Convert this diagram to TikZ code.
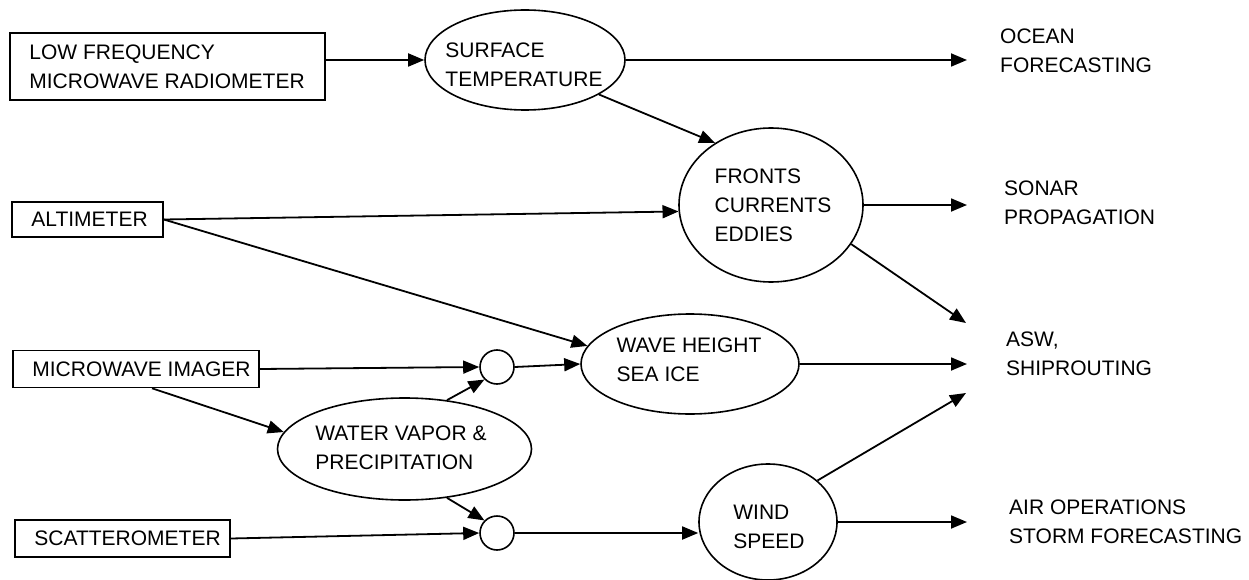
\documentclass[tikz,border=0pt]{standalone}
\usepackage{fontspec}
\setmainfont{Liberation Sans}
\usetikzlibrary{arrows.meta,shapes.geometric,calc}
\begin{document}
\begin{tikzpicture}[x=1pt,y=-1pt,
  arr/.style={line width=1.8pt,-{Triangle[length=16pt,width=13pt]}},
  boxshape/.style={draw,line width=1.6pt,rectangle,inner sep=0pt},
  oval/.style={draw,line width=1.6pt,ellipse,inner sep=0pt},
  dot/.style={draw,line width=1.6pt,circle,inner sep=0pt,minimum size=34pt},
  txt/.style={font=\fontsize{21}{29}\selectfont,align=left,inner sep=0pt},
]
\fill[white] (0,0) rectangle (1249,580);
\useasboundingbox (0,0) rectangle (1249,580);

% sensor boxes
\node[boxshape,minimum width=315pt,minimum height=67pt] (lfmr) at (167.5,66.5) {};
\node[txt,anchor=west] (lfmrT) at ($(lfmr.west)+(20,0)$) {LOW FREQUENCY\\MICROWAVE RADIOMETER};
\node[boxshape,minimum width=151pt,minimum height=35pt] (alt) at (87.5,219.5) {};
\node[txt,anchor=west] (altT) at ($(alt.west)+(20,0)$) {ALTIMETER};
\node[boxshape,minimum width=246pt,minimum height=37pt] (mi) at (136,369) {};
\node[txt,anchor=west] (miT) at ($(mi.west)+(20,0)$) {MICROWAVE IMAGER};
\node[boxshape,minimum width=215pt,minimum height=37pt] (sc) at (122.5,538.5) {};
\node[txt,anchor=west] (scT) at ($(sc.west)+(20,0)$) {SCATTEROMETER};

% products
\node[oval,minimum width=200pt,minimum height=100pt] (st) at (525,60) {};
\node[txt] (stT) at (524,65) {SURFACE\\TEMPERATURE};
\node[oval,minimum width=184pt,minimum height=154pt] (fr) at (771,205) {};
\node[txt] (frT) at (773,205) {FRONTS\\CURRENTS\\EDDIES};
\node[oval,minimum width=218pt,minimum height=100pt] (wave) at (690,364) {};
\node[txt] (waveT) at (689,360) {WAVE HEIGHT\\SEA ICE};
\node[oval,minimum width=254pt,minimum height=102pt] (wv) at (404.5,449) {};
\node[txt] (wvT) at (401,448) {WATER VAPOR \&\\PRECIPITATION};
\node[oval,minimum width=138pt,minimum height=116pt] (wind) at (768,522) {};
\node[txt] (windT) at (769,527) {WIND\\SPEED};
\node[dot] (c1) at (497,367) {};
\node[dot] (c2) at (497,533) {};

% applications
\node[txt,anchor=west] (ocean) at (1000,51) {OCEAN\\FORECASTING};
\node[txt,anchor=west] (sonar) at (1004,203) {SONAR\\PROPAGATION};
\node[txt,anchor=west] (asw) at (1006,354) {ASW,\\SHIPROUTING};
\node[txt,anchor=west] (air) at (1009,522) {AIR OPERATIONS\\STORM FORECASTING};

\coordinate (rt) at (967,0);
\coordinate (aswA) at (966,323);
\coordinate (aswC) at (966,393);

% connectors
\draw[arr] (lfmr.east |- st.west) -- (st.west);
\draw[arr] (st.east) -- (st.east -| rt);
\draw[arr] (st.335) -- (fr.132);
\draw[arr] (alt.east) -- (fr.184);
\draw[arr] (alt.east) -- (wave.170);
\draw[arr] (fr.east) -- (fr.east -| rt);
\draw[arr] (fr.334) -- (aswA);
\draw[arr] (mi.east) -- (c1.west);
\draw[arr] (c1.east) -- (wave.west);
\draw[arr] (wave.east) -- (wave.east -| rt);
\draw[arr] ($(mi.south)+(16,0)$) -- (wv.172);
\draw[arr] (wv.49) -- (c1.south west);
\draw[arr] (wv.311) -- (c2.north west);
\draw[arr] (sc.east) -- (c2.west);
\draw[arr] (c2.east) -- (c2.east -| wind.west);
\draw[arr] (wind.40) -- (aswC);
\draw[arr] (wind.east) -- (wind.east -| rt);
\end{tikzpicture}
\end{document}
